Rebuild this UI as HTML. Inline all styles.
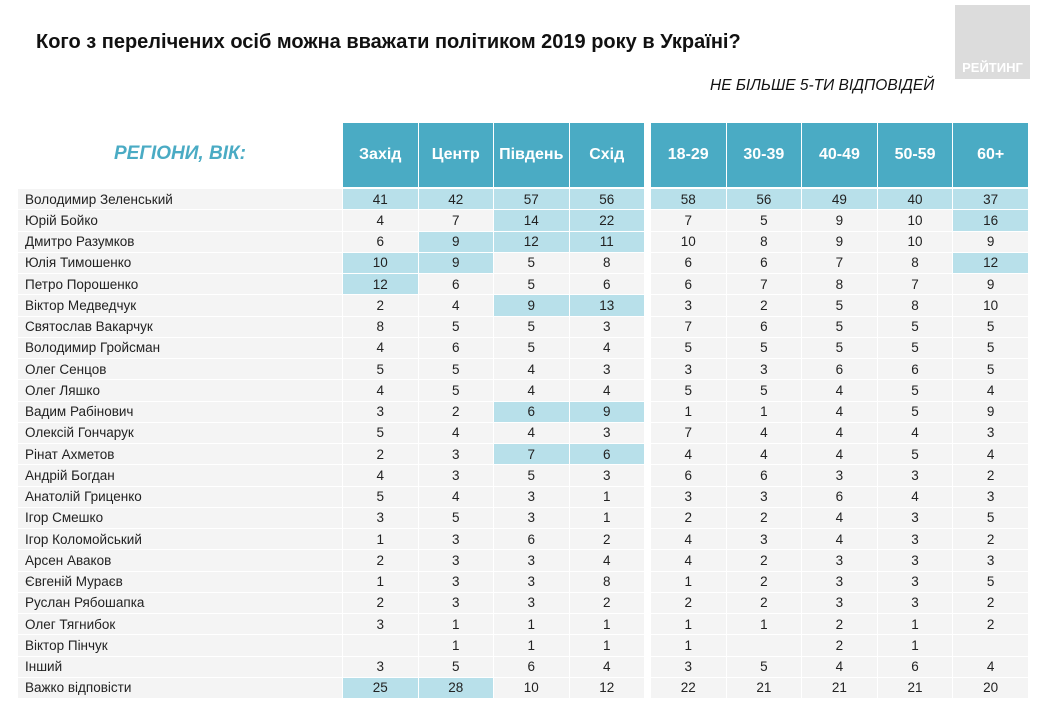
<!DOCTYPE html>
<html><head><meta charset="utf-8">
<style>
body{margin:0;width:1043px;height:713px;background:#fff;position:relative;overflow:hidden;font-family:"Liberation Sans Narrow","Liberation Sans",sans-serif;}
.abs{position:absolute;}
.title{left:36px;top:31px;font-weight:bold;font-size:20px;color:#111;white-space:nowrap;transform-origin:0 0;transform:scaleX(1.0);font-family:"Liberation Sans",sans-serif;}
.sub{left:710px;top:77px;font-style:italic;font-size:15.5px;color:#111;white-space:nowrap;transform-origin:0 0;transform:scaleX(1.0);font-family:"Liberation Sans",sans-serif;}
.logo{left:955px;top:5px;width:75px;height:74px;background:#dcdcdc;}
.logo span{position:absolute;bottom:4px;left:0;width:100%;text-align:center;color:#fff;font-weight:bold;font-size:13px;font-family:"Liberation Sans",sans-serif;}
.reg{left:20px;top:143px;width:320px;text-align:center;color:#4aabc4;font-style:italic;font-weight:bold;font-size:19px;font-family:"Liberation Sans",sans-serif;}
.hd{background:#4aabc4;color:#fff;font-weight:bold;font-size:16px;display:flex;align-items:center;justify-content:center;font-family:"Liberation Sans",sans-serif;}
.cell{background:#f4f4f4;font-size:13.5px;color:#222;display:flex;align-items:center;justify-content:center;font-family:"Liberation Sans",sans-serif;}
.hl{background:#b8e0ea;}
.nm{justify-content:flex-start;padding-left:7px;box-sizing:border-box;}
</style></head><body>
<div class="abs title">Кого з перелічених осіб можна вважати політиком 2019 року в Україні?</div>
<div class="abs sub">НЕ БІЛЬШЕ 5-ТИ ВІДПОВІДЕЙ</div>
<div class="abs logo"><span>РЕЙТИНГ</span></div>
<div class="abs reg">РЕГІОНИ, ВІК:</div>
<div id="tbl"></div>
<script>
const columns=["Захід","Центр","Південь","Схід","18-29","30-39","40-49","50-59","60+"];
const names=["Володимир Зеленський","Юрій Бойко","Дмитро Разумков","Юлія Тимошенко","Петро Порошенко","Віктор Медведчук","Святослав Вакарчук","Володимир Гройсман","Олег Сенцов","Олег Ляшко","Вадим Рабінович","Олексій Гончарук","Рінат Ахметов","Андрій Богдан","Анатолій Гриценко","Ігор Смешко","Ігор Коломойський","Арсен Аваков","Євгеній Мураєв","Руслан Рябошапка","Олег Тягнибок","Віктор Пінчук","Інший","Важко відповісти"];
const zakhid=[41,4,6,10,12,2,8,4,5,4,3,5,2,4,5,3,1,2,1,2,3,null,3,25];
const tsentr=[42,7,9,9,6,4,5,6,5,5,2,4,3,3,4,5,3,3,3,3,1,1,5,28];
const pivden=[57,14,12,5,5,9,5,5,4,4,6,4,7,5,3,3,6,3,3,3,1,1,6,10];
const skhid=[56,22,11,8,6,13,3,4,3,4,9,3,6,3,1,1,2,4,8,2,1,1,4,12];
const a1829=[58,7,10,6,6,3,7,5,3,5,1,7,4,6,3,2,4,4,1,2,1,1,3,22];
const a3039=[56,5,8,6,7,2,6,5,3,5,1,4,4,6,3,2,3,2,2,2,1,null,5,21];
const a4049=[49,9,9,7,8,5,5,5,6,4,4,4,4,3,6,4,4,3,3,3,2,2,4,21];
const a5059=[40,10,10,8,7,8,5,5,6,5,5,4,5,3,4,3,3,3,3,3,1,1,6,21];
const a60=[37,16,9,12,9,10,5,5,5,4,9,3,4,2,3,5,2,3,5,2,2,null,4,20];
const series=[zakhid,tsentr,pivden,skhid,a1829,a3039,a4049,a5059,a60];
const highlights=["0-0","0-1","0-2","0-3","0-4","0-5","0-6","0-7","0-8","1-2","1-3","1-8","2-1","2-2","2-3","3-0","3-1","3-8","4-0","5-2","5-3","10-2","10-3","12-2","12-3","23-0","23-1"];
const colX=c=>c<4?343+c*75.5:651+(c-4)*75.6;
const colW=74.5;
const rowY=r=>189+r*21.25;
const rowH=20.25;
const tbl=document.getElementById('tbl');
columns.forEach((c,i)=>{
  const d=document.createElement('div');
  d.className='abs hd';
  
  
  d.style.left=colX(i)+'px';d.style.top='123px';d.style.width=colW+'px';d.style.height='64px';
  d.textContent=c;tbl.appendChild(d);
});
names.forEach((n,r)=>{
  const d=document.createElement('div');
  d.className='abs cell nm';
  
  
  d.style.left='18px';d.style.top=rowY(r)+'px';d.style.width='324px';d.style.height=rowH+'px';
  d.textContent=n;tbl.appendChild(d);
  series.forEach((s,c)=>{
    const e=document.createElement('div');
    e.className='abs cell'+(highlights.includes(r+'-'+c)?' hl':'');
    
    
    e.style.left=colX(c)+'px';e.style.top=rowY(r)+'px';e.style.width=colW+'px';e.style.height=rowH+'px';
    e.textContent=s[r]==null?'':s[r];tbl.appendChild(e);
  });
});
</script>
</body></html>
